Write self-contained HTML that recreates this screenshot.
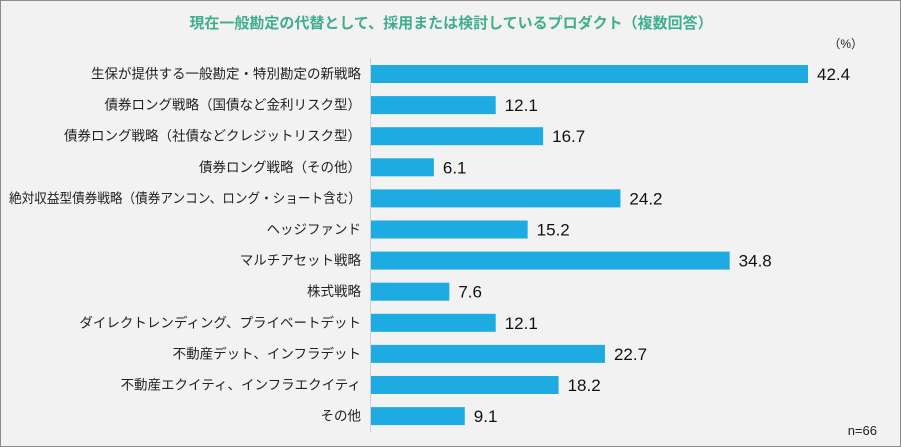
<!DOCTYPE html>
<html><head><meta charset="utf-8">
<style>
html,body{margin:0;padding:0;background:#fff}
#wrap{position:relative;width:899px;height:445px;border:1px solid #8c8c8c;background:#f2f2f2;font-family:"Liberation Sans","Noto Sans CJK JP",sans-serif}
svg{position:absolute;left:0;top:0}
</style></head><body>
<div id="wrap">
<svg id="chart" width="899" height="445">
<text x="450" y="27" text-anchor="middle" font-size="15" font-weight="bold" fill="#3fae8e">現在一般勘定の代替として、採用または検討しているプロダクト（複数回答）</text>
<text x="862" y="47" text-anchor="end" font-size="12" fill="#222">（%）</text>
<text x="876" y="434" text-anchor="end" font-size="13" fill="#222">n=66</text>
<line x1="369.5" y1="57" x2="369.5" y2="431" stroke="#d0d0d0"/>
</svg>
</div>
<script>
const categories=["生保が提供する一般勘定・特別勘定の新戦略","債券ロング戦略（国債など金利リスク型）","債券ロング戦略（社債などクレジットリスク型）","債券ロング戦略（その他）","絶対収益型債券戦略（債券アンコン、ロング・ショート含む）","ヘッジファンド","マルチアセット戦略","株式戦略","ダイレクトレンディング、プライベートデット","不動産デット、インフラデット","不動産エクイティ、インフラエクイティ","その他"];
const values=[42.4,12.1,16.7,6.1,24.2,15.2,34.8,7.6,12.1,22.7,18.2,9.1];
const svg=document.getElementById('chart');
const NS='http://www.w3.org/2000/svg';
const x0=370,scale=(807-370)/42.4;
function xs(v){return x0+v*scale;}
function yc(i){return 73+i*31.1;}
categories.forEach((c,i)=>{
  const y=yc(i);
  const t=document.createElementNS(NS,'text');
  t.setAttribute('x',360);t.setAttribute('y',y+4.5);t.setAttribute('text-anchor','end');
  t.setAttribute('font-size','13.5');t.setAttribute('fill','#222');t.textContent=c;
  
  
  svg.appendChild(t);
  const len=t.getComputedTextLength();
  if(len>352){t.setAttribute('textLength',352);t.setAttribute('lengthAdjust','spacingAndGlyphs');}
  const r=document.createElementNS(NS,'rect');
  r.setAttribute('x',x0);r.setAttribute('y',y-9);r.setAttribute('width',xs(values[i])-x0);r.setAttribute('height',18);
  r.setAttribute('fill','#1eabe2');
  
  
  svg.appendChild(r);
  const v=document.createElementNS(NS,'text');
  v.setAttribute('x',xs(values[i])+9);v.setAttribute('y',y+6);
  v.setAttribute('font-size','17');v.setAttribute('fill','#111');v.textContent=values[i].toFixed(1);
  
  
  svg.appendChild(v);
});
</script>
</body></html>
